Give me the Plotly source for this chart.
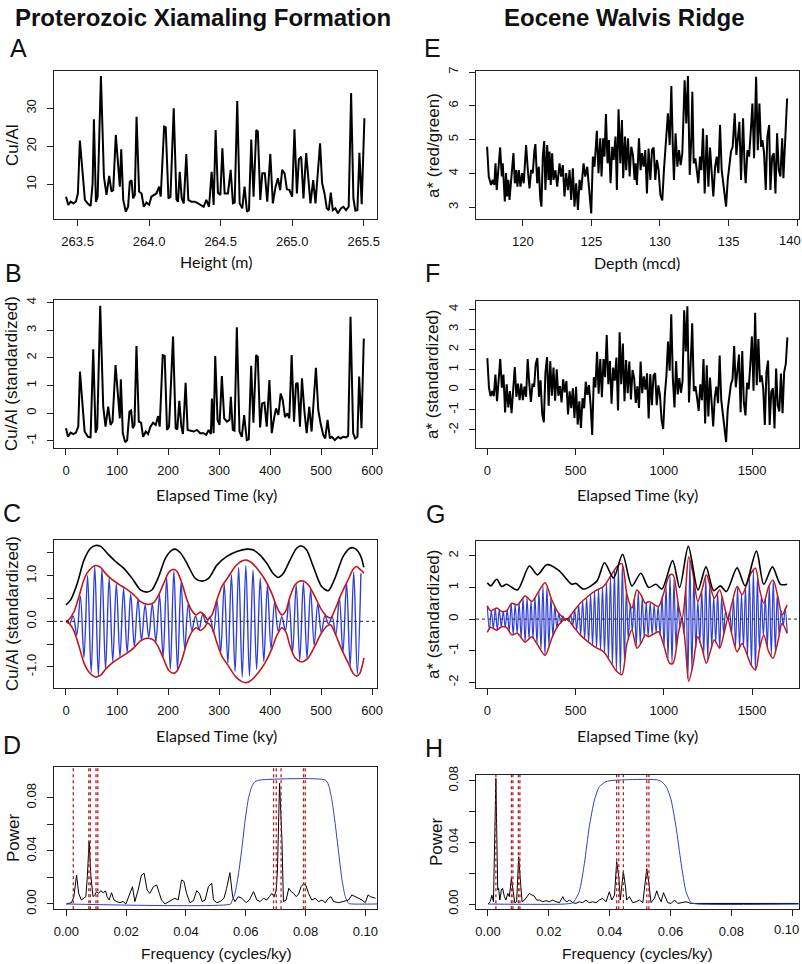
import numpy as np
import plotly.graph_objects as go

W, H = 802, 964
FONT = "Liberation Sans, Arial, sans-serif"
BLUE = "#2f3fd4"
RED = "#c01818"
DRED = "#b02020"

# ---------------- Panel A : Cu/Al vs height ----------------
A_height = [263.419, 263.435, 263.451, 263.470, 263.488, 263.502, 263.516, 263.535, 263.551, 263.574,
            263.591, 263.605, 263.614, 263.628, 263.640, 263.663, 263.684, 263.702, 263.721, 263.737,
            263.749, 263.767, 263.784, 263.795, 263.805, 263.819, 263.837, 263.853, 263.865, 263.877,
            263.888, 263.900, 263.912, 263.930, 263.947, 263.963, 263.981, 264.000, 264.016, 264.033,
            264.051, 264.070, 264.081, 264.105, 264.116, 264.135, 264.149, 264.172, 264.191, 264.202,
            264.214, 264.228, 264.242, 264.260, 264.274, 264.295, 264.319, 264.342, 264.365, 264.381,
            264.400, 264.419, 264.437, 264.451, 264.465, 264.481, 264.498, 264.512, 264.528, 264.551,
            264.570, 264.586, 264.598, 264.616, 264.633, 264.651, 264.667, 264.684, 264.698, 264.714,
            264.730, 264.749, 264.760, 264.777, 264.791, 264.809, 264.826, 264.847, 264.865, 264.884,
            264.900, 264.916, 264.930, 264.947, 264.963, 264.981, 265.000, 265.016, 265.033, 265.047,
            265.063, 265.079, 265.098, 265.112, 265.128, 265.147, 265.163, 265.195, 265.209, 265.226,
            265.242, 265.256, 265.270, 265.284, 265.302, 265.319, 265.342, 265.358, 265.377, 265.395,
            265.412, 265.428, 265.442, 265.456, 265.470, 265.486, 265.505]
A_cual = [6.75, 4.56, 5.44, 5.0, 5.44, 7.6, 21.5, 12.0, 5.9, 4.8,
          4.3, 10.3, 27.1, 5.4, 6.75, 38.5, 12.0, 7.2, 12.2, 8.1,
          8.5, 23.0, 15.5, 9.4, 19.2, 5.9, 2.8, 4.1, 10.7, 11.1,
          6.3, 7.2, 27.8, 8.1, 7.6, 4.1, 5.2, 4.6, 6.75, 7.2,
          7.6, 9.4, 6.75, 25.2, 25.0, 6.3, 6.75, 30.0, 6.05, 5.44,
          13.3, 6.3, 5.0, 18.0, 5.9, 5.44, 5.44, 5.0, 4.56, 4.1,
          5.9, 4.1, 13.3, 4.56, 24.3, 7.8, 7.2, 19.5, 7.6, 7.6,
          13.8, 5.0, 5.2, 31.9, 5.0, 3.7, 9.4, 2.8, 3.2, 21.8,
          6.75, 24.3, 23.9, 5.9, 12.9, 12.9, 5.44, 18.0, 5.0, 9.4,
          11.6, 8.5, 13.8, 12.9, 8.7, 8.5, 6.75, 24.5, 7.6, 16.6,
          17.3, 6.3, 18.2, 12.0, 5.0, 11.1, 5.0, 20.8, 10.4, 7.6,
          3.7, 3.2, 7.8, 3.2, 3.7, 2.4, 3.7, 4.1, 3.2, 4.1,
          34.0, 6.3, 3.1, 3.2, 18.3, 4.8, 27.4]

# ---------------- Panel B : standardized Cu/Al vs time ----------------
B_time = [0, 3.9, 9.1, 14.3, 19.5, 24.1, 27.4, 32.6, 36.5, 43.0,
          48.2, 53.4, 58.0, 61.2, 67.1, 73.0, 77.5, 82.7, 87.3, 91.2,
          97.1, 101.6, 105.5, 107.5, 111.4, 116.0, 119.9, 124.4, 127.7, 130.9,
          134.2, 138.1, 142.7, 147.2, 151.1, 156.4, 160.9, 165.5, 170.7, 175.9,
          180.5, 183.7, 189.6, 193.5, 198.0, 202.0, 209.8, 215.0, 218.2, 222.1,
          226.1, 229.3, 234.5, 238.4, 243.6, 250.2, 256.7, 263.2, 269.7, 274.9,
          279.5, 284.0, 286.0, 289.3, 292.5, 297.1, 301.0, 305.5, 310.1, 315.3,
          320.5, 323.1, 327.0, 330.3, 334.9, 340.1, 344.6, 349.2, 354.4, 358.3,
          362.9, 367.4, 372.6, 375.9, 380.5, 384.4, 388.9, 393.5, 398.7, 403.3,
          407.8, 411.7, 416.3, 420.8, 424.8, 429.3, 433.9, 437.8, 442.3, 446.9,
          450.8, 454.1, 458.6, 462.5, 467.1, 471.7, 476.9, 481.4, 489.9, 494.5,
          499.0, 504.2, 508.1, 512.7, 517.3, 521.2, 527.0, 533.6, 538.1, 543.3,
          548.5, 553.1, 557.7, 562.9, 566.8, 571.3, 574.6, 579.2, 583.7]
B_std = [-0.55, -0.86, -0.71, -0.76, -0.71, -0.49, 1.50, 0.23, -0.67, -0.86,
         -0.88, 2.31, -0.71, -0.55, 3.89, 0.23, -0.49, 0.23, -0.43, -0.31,
         1.74, 0.71, -0.19, 1.22, -0.73, -1.06, -0.98, 0.05, 0.09, -0.55,
         -0.43, 2.43, -0.31, -0.35, -0.86, -0.67, -0.76, -0.49, -0.35, -0.43,
         -0.11, -0.49, 2.10, 2.07, -0.61, -0.49, 2.77, -0.55, -0.59, 0.44,
         -0.49, -0.76, 1.10, -0.61, -0.64, -0.67, -0.61, -0.73, -0.73, -0.79,
         -0.61, -0.76, 0.53, -0.73, 2.07, -0.25, -0.43, 1.34, -0.19, -0.31,
         -0.25, 0.59, -0.61, -0.64, 3.11, -0.67, -0.86, -0.07, -0.98, -0.95,
         1.71, -0.35, 2.10, 2.04, -0.52, 0.35, 0.38, -0.49, 1.20, -0.73,
         -0.19, 0.17, -0.07, 0.71, 0.47, -0.15, -0.01, -0.19, 2.10, -0.31,
         1.05, 1.10, -0.49, 1.26, 0.11, -0.73, 0.23, -0.67, 1.64, 0.11,
         -0.37, -0.79, -0.92, -0.25, -0.92, -0.86, -0.98, -0.86, -0.92, -0.86,
         -0.88, -0.83, 3.49, -0.73, -0.92, -0.86, 1.32, -0.55, 2.70]

# ---------------- Panel C : filtered signal ----------------
C_blue_step = 7.05
C_blue = [0.0, -0.05, 0.12, -0.3, 0.55, -0.8, 1.0, -1.12, 1.2, -1.2,
          1.15, -1.05, 0.95, -0.88, 0.82, -0.78, 0.72, -0.68, 0.6, -0.55,
          0.48, -0.42, 0.36, -0.35, 0.38, -0.45, 0.58, -0.78, 0.95, -1.05,
          1.1, -1.05, 0.85, -0.6, 0.38, -0.2, 0.12, -0.18, 0.15, -0.04,
          0.1, -0.25, 0.45, -0.68, 0.82, -0.92, 1.02, -1.1, 1.18, -1.22,
          1.22, -1.2, 1.12, -1.05, 0.95, -0.88, 0.78, -0.6, 0.42, -0.22,
          0.1, -0.2, 0.45, -0.68, 0.8, -0.85, 0.85, -0.8, 0.7, -0.52,
          0.38, -0.25, 0.12, -0.06, 0.1, -0.3, 0.52, -0.68, 0.85, -0.98,
          1.08, -1.15, 1.05]
C_env_t = [0, 5.9, 15.6, 25.4, 35.2, 45.0, 58.0, 67.8, 77.5, 90.6,
           103.6, 116.6, 133.0, 146.0, 159.0, 172.0, 181.8, 191.5, 201.3, 211.1,
           217.6, 227.4, 237.1, 246.9, 255.4, 263.2, 271.0, 277.5, 286.0, 295.8,
           305.5, 318.6, 331.6, 344.6, 354.4, 364.2, 377.2, 390.2, 403.3, 413.0,
           422.8, 431.0, 439.1, 449.0, 458.6, 465.1, 474.9, 488.0, 501.0, 512.1,
           519.2, 527.0, 540.1, 553.1, 562.9, 569.4, 575.9, 581.1, 584.0]
C_env_upper = [0.0, 0.04, 0.21, 0.54, 0.91, 1.11, 1.22, 1.18, 1.05, 0.91,
               0.81, 0.72, 0.58, 0.43, 0.37, 0.41, 0.58, 0.83, 1.07, 1.14,
               1.09, 0.83, 0.47, 0.23, 0.14, 0.20, 0.14, 0.04, 0.14, 0.47,
               0.76, 0.98, 1.20, 1.32, 1.34, 1.28, 1.12, 0.91, 0.61, 0.32,
               0.14, 0.23, 0.54, 0.80, 0.88, 0.88, 0.80, 0.54, 0.25, 0.10,
               0.08, 0.25, 0.61, 0.91, 1.14, 1.20, 1.14, 1.09, 1.05]
C_env_lower = [0.0, -0.04, -0.21, -0.54, -0.91, -1.11, -1.22, -1.18, -1.05, -0.91,
               -0.81, -0.72, -0.58, -0.43, -0.37, -0.41, -0.58, -0.83, -1.07, -1.14,
               -1.09, -0.83, -0.47, -0.23, -0.14, -0.20, -0.14, -0.04, -0.14, -0.47,
               -0.76, -0.98, -1.20, -1.32, -1.34, -1.28, -1.12, -0.91, -0.61, -0.32,
               -0.14, -0.23, -0.54, -0.80, -0.88, -0.88, -0.80, -0.54, -0.25, -0.10,
               -0.08, -0.25, -0.61, -0.91, -1.14, -1.20, -1.14, -0.95, -0.80]
C_ecc_t = [0, 9.1, 22.1, 35.2, 48.2, 58.0, 67.8, 80.8, 97.1, 113.4,
           129.6, 145.9, 159.0, 168.7, 181.8, 194.8, 207.8, 214.3, 224.1, 237.1,
           253.4, 266.4, 279.5, 295.8, 315.3, 334.9, 354.4, 367.4, 380.5, 393.5,
           406.5, 416.3, 426.1, 439.1, 452.1, 461.9, 471.7, 484.7, 501.0, 514.0,
           527.0, 543.3, 556.4, 562.9, 572.6, 579.2, 583.7]
C_ecc = [0.36, 0.47, 0.83, 1.34, 1.60, 1.66, 1.64, 1.49, 1.31, 1.16,
         0.94, 0.69, 0.64, 0.69, 0.98, 1.38, 1.56, 1.58, 1.50, 1.27,
         0.94, 0.88, 0.94, 1.23, 1.42, 1.53, 1.58, 1.56, 1.45, 1.27,
         1.04, 0.96, 1.05, 1.34, 1.60, 1.65, 1.56, 1.20, 0.76, 0.67,
         0.94, 1.42, 1.60, 1.61, 1.53, 1.38, 1.18]

# ---------------- Panel D : spectrum ----------------
D_freq = [0, 0.0017, 0.0025, 0.0034, 0.0041, 0.0050, 0.0065, 0.0070, 0.0076, 0.0082,
          0.0089, 0.0095, 0.0101, 0.0108, 0.0115, 0.0123, 0.0131, 0.0136, 0.0143, 0.0151,
          0.0159, 0.0168, 0.0179, 0.0190, 0.0199, 0.0212, 0.0221, 0.0229, 0.0240, 0.0251,
          0.0260, 0.0270, 0.0279, 0.0291, 0.0302, 0.0311, 0.0318, 0.0330, 0.0341, 0.0352,
          0.0363, 0.0374, 0.0385, 0.0393, 0.0402, 0.0413, 0.0425, 0.0436, 0.0445, 0.0454,
          0.0464, 0.0475, 0.0486, 0.0492, 0.0503, 0.0514, 0.0527, 0.0536, 0.0547, 0.0556,
          0.0564, 0.0575, 0.0587, 0.0601, 0.0612, 0.0626, 0.0637, 0.0648, 0.0659, 0.0670,
          0.0679, 0.0687, 0.0695, 0.0702, 0.0706, 0.0713, 0.0721, 0.0726, 0.0735, 0.0744,
          0.0752, 0.0760, 0.0769, 0.0777, 0.0785, 0.0793, 0.0801, 0.0810, 0.0821, 0.0832,
          0.0844, 0.0855, 0.0866, 0.0877, 0.0885, 0.0894, 0.0911, 0.0927, 0.0944, 0.0955,
          0.0966, 0.0978, 0.0989, 0.1000, 0.1009, 0.1017, 0.1034]
D_power = [0, 0.0010, 0.0055, 0.0218, 0.0080, 0.0030, 0.0055, 0.0206, 0.0469, 0.0206,
           0.0055, 0.0068, 0.0093, 0.0080, 0.0100, 0.0085, 0.0098, 0.0055, 0.0030, 0.0085,
           0.0030, 0.0018, 0.0010, 0.0018, 0.0, 0.0080, 0.0130, 0.0018, 0.0105, 0.0218,
           0.0231, 0.0105, 0.0080, 0.0130, 0.0143, 0.0080, 0.0030, 0.0, 0.0018, 0.0030,
           0.0043, 0.0030, 0.0181, 0.0171, 0.0080, 0.0010, 0.0025, 0.0100, 0.0080, 0.0018,
           0.0030, 0.0130, 0.0156, 0.0030, 0.0010, 0.0018, 0.0043, 0.0118, 0.0236, 0.0055,
           0.0018, 0.0055, 0.0043, 0.0010, 0.0030, 0.0093, 0.0030, 0.0018, 0.0043, 0.0030,
           0.0055, 0.0080, 0.0055, 0.0105, 0.0256, 0.0908, 0.0482, 0.0018, 0.0030, 0.0118,
           0.0093, 0.0080, 0.0055, 0.0075, 0.0130, 0.0150, 0.0140, 0.0080, 0.0030, 0.0043,
           0.0018, 0.0030, 0.0010, 0.0043, 0.0055, 0.0018, 0.0010, 0.0018, 0.0030, 0.0068,
           0.0055, 0.0043, 0.0030, 0.0010, 0.0068, 0.0055, 0.0043]
D_filter_f = [0, 0.0550, 0.0553, 0.0564, 0.0575, 0.0587, 0.0598, 0.0609, 0.0620, 0.0631,
              0.0648, 0.0866, 0.0877, 0.0888, 0.0899, 0.0911, 0.0922, 0.0933, 0.0944, 0.0955, 0.1040]
D_filter_p = [0, 0, 0.0018, 0.0080, 0.0218, 0.0419, 0.0632, 0.0795, 0.0883, 0.0920,
              0.0933, 0.0933, 0.0895, 0.0783, 0.0607, 0.0381, 0.0181, 0.0055, 0.0005, 0, 0]
D_marks = [0.0023, 0.0075, 0.0080, 0.0099, 0.0105, 0.0693, 0.0702, 0.0718, 0.0793, 0.0799]

# ---------------- Panel E : a* vs depth ----------------
E_depth = [117.40, 117.52, 117.69, 117.81, 117.93, 118.01, 118.10, 118.22, 118.35, 118.47,
           118.54, 118.69, 118.78, 118.86, 118.95, 119.03, 119.17, 119.32, 119.42, 119.51,
           119.61, 119.71, 119.83, 119.95, 120.07, 120.24, 120.37, 120.49, 120.61, 120.73,
           120.85, 120.92, 121.05, 121.17, 121.27, 121.36, 121.46, 121.56, 121.65, 121.78,
           121.87, 121.95, 122.04, 122.14, 122.24, 122.38, 122.51, 122.68, 122.80, 122.92,
           123.04, 123.16, 123.29, 123.41, 123.53, 123.65, 123.77, 123.89, 124.02, 124.14,
           124.26, 124.43, 124.55, 124.70, 124.82, 124.99, 125.11, 125.23, 125.40, 125.52,
           125.65, 125.74, 125.86, 125.96, 126.06, 126.18, 126.28, 126.40, 126.52, 126.62,
           126.76, 126.86, 126.98, 127.11, 127.23, 127.32, 127.45, 127.54, 127.67, 127.79,
           127.91, 128.03, 128.15, 128.22,
           128.32, 128.47, 128.59, 128.69, 128.81, 128.93, 129.05, 129.17, 129.30, 129.42,
           129.54, 129.66, 129.78, 129.90, 130.03, 130.17, 130.29, 130.41, 130.58, 130.71,
           130.83, 130.95, 131.02, 131.14, 131.27, 131.39, 131.51, 131.63, 131.80, 131.92,
           132.04, 132.17, 132.29, 132.36, 132.46, 132.58, 132.68, 132.80, 132.92, 133.02,
           133.14, 133.26, 133.41, 133.53, 133.65, 133.77, 133.89, 134.02, 134.14, 134.26,
           134.38, 134.50, 134.62, 134.75, 134.82, 134.94, 135.06, 135.18, 135.30, 135.45,
           135.57, 135.69, 135.79, 135.91, 136.06, 136.18, 136.25, 136.38, 136.50, 136.62,
           136.74, 136.86, 137.01, 137.13, 137.25, 137.37, 137.47, 137.59, 137.71, 137.83,
           137.96, 138.05, 138.18, 138.30, 138.42, 138.54, 138.66, 138.78, 138.91, 139.00,
           139.10, 139.17, 139.27]
E_astar = [4.79, 3.91, 3.66, 3.81, 3.66, 4.30, 3.51, 4.10, 4.77, 3.91,
           4.30, 3.17, 4.01, 3.32, 3.81, 3.22, 3.91, 4.60, 3.71, 4.10,
           3.61, 4.10, 3.61, 4.01, 3.71, 4.84, 4.10, 3.56, 4.10, 4.01,
           4.69, 4.87, 3.71, 4.20, 3.27, 3.02, 4.50, 4.96, 3.51, 4.84,
           3.81, 4.65, 3.66, 4.60, 3.81, 4.10, 3.61, 4.30, 3.91, 4.25,
           3.32, 4.01, 3.51, 4.10, 3.22, 4.15, 3.02, 3.71, 2.92, 3.81,
           3.51, 4.30, 3.91, 4.20, 3.61, 2.82, 4.50, 4.20, 5.26, 4.01,
           5.04, 3.91, 5.04, 4.50, 5.76, 4.30, 4.99, 3.71, 4.79, 4.40,
           5.09, 3.51, 5.90, 4.30, 5.58, 3.86, 5.09, 4.10, 5.04, 3.91,
           4.79, 4.55, 3.81, 4.30,
           3.66, 5.04, 4.10, 4.60, 4.20, 4.69, 3.41, 4.74, 3.81, 4.69,
           4.77, 3.81, 4.40, 4.10, 3.37, 3.20, 4.10, 4.69, 5.78, 4.84,
           6.59, 4.60, 3.81, 5.19, 4.20, 4.69, 4.25, 4.60, 6.76, 5.48,
           6.88, 3.96, 5.09, 6.42, 4.30, 4.45, 4.10, 3.71, 4.50, 4.10,
           5.33, 3.41, 5.14, 3.61, 4.77, 4.01, 3.32, 4.20, 4.50, 4.01,
           5.43, 4.10, 3.66, 3.17, 3.02, 3.81, 4.30, 4.65, 4.79, 5.78,
           4.55, 5.09, 5.53, 3.81, 5.63, 4.10, 3.71, 4.69, 4.50, 5.24,
           6.07, 4.45, 6.86, 4.69, 6.07, 4.79, 4.99, 4.60, 3.51, 5.09,
           5.43, 3.51, 4.50, 4.60, 3.41, 5.19, 4.10, 3.91, 5.04, 3.86,
           5.09, 5.33, 6.22]

# ---------------- Panel F : standardized a* vs time ----------------
F_tmax = 1700
F_std = [1.57, 0.10, -0.32, -0.07, -0.32, 0.75, -0.57, 0.42, 1.53, 0.10,
         0.75, -1.13, 0.27, -0.88, -0.07, -1.17, -0.02, 1.13, -0.35, 0.30,
         -0.52, 0.30, -0.52, 0.15, -0.35, 1.53, 0.30, -0.60, 0.30, 0.15,
         1.28, 1.58, -0.35, 0.47, -1.20, -1.62, 0.85, 1.62, -0.80, 1.42,
         -0.30, 1.10, -0.55, 1.02, -0.30, 0.18, -0.63, 0.52, -0.13, 0.43,
         -1.23, -0.08, -0.92, 0.07, -1.40, 0.15, -1.73, -0.58, -1.90, -0.42,
         -0.92, 0.40, -0.25, 0.23, -0.75, -2.25, 0.62, 0.12, 1.88, -0.20,
         1.52, -0.37, 1.52, 0.62, 2.72, 0.28, 1.43, -0.70, 1.10, 0.45,
         1.60, -1.03, 2.85, 0.28, 2.30, -0.57, 1.48, -0.17, 1.40, -0.48,
         0.98, 0.58, -0.65, 0.17,
         -0.90, 1.40, -0.17, 0.67, 0.00, 0.82, -1.43, 0.78, -0.77, 0.70,
         0.83, -0.77, 0.22, -0.28, -1.50, -1.95, -0.28, 0.70, 2.40, 0.95,
         3.75, 0.55, -0.88, 1.42, -0.23, 0.58, -0.15, 0.43, 3.95, 1.90,
         4.15, -0.63, 1.25, 3.30, -0.07, 0.18, -0.40, -1.05, 0.27, -0.52,
         1.53, -1.67, 1.22, -1.33, 0.60, -0.67, -1.82, -0.35, 0.15, -0.67,
         1.70, -0.52, -1.25, -2.07, -2.60, -1.00, -0.30, 0.28, 0.52, 2.17,
         0.12, 1.02, 1.75, -1.12, 1.92, -0.63, -1.28, 0.35, 0.03, 1.27,
         2.65, -0.05, 3.83, 0.22, 2.52, 0.38, 0.72, 0.07, -1.75, 0.88,
         1.45, -1.75, -0.10, 0.07, -1.92, 1.05, -0.77, -1.08, 0.80, -1.17,
         0.88, 1.28, 2.60]

# ---------------- Panel G : filtered signal ----------------
G_blue_step = 11.25
G_blue = [0.42, -0.33, 0.27, -0.30, 0.33, -0.34, 0.29, -0.25, 0.25, -0.26,
          0.29, -0.38, 0.48, -0.49, 0.47, -0.45, 0.51, -0.59, 0.66, -0.73,
          0.68, -0.63, 0.58, -0.61, 0.69, -0.78, 0.87, -0.96, 1.05, -1.14,
          1.00, -0.84, 0.68, -0.54, 0.42, -0.29, 0.18, -0.14, 0.10, -0.05,
          0.00, -0.07, 0.14, -0.21, 0.29, -0.36, 0.44, -0.51, 0.57, -0.63,
          0.68, -0.73, 0.78, -0.83, 0.87, -0.91, 0.95, -0.98, 1.01, -1.08,
          1.17, -1.26, 1.35, -1.45, 1.54, -1.64, 1.69, -1.73, 1.74, -1.27,
          0.89, -0.65, 0.49, -0.39, 0.62, -0.85, 0.87, -0.79, 0.69, -0.57,
          0.52, -0.55, 0.53, -0.50, 0.47, -0.44, 0.41, -0.51, 0.71, -0.86,
          1.05, -1.24, 1.40, -1.40, 1.24, -0.89, 0.53, -0.25, 0.02, -0.46,
          1.00, -1.88, 1.85, -1.59, 1.29, -0.92, 0.57, -0.74, 0.90, -1.12,
          1.33, -1.27, 1.08, -0.88, 0.70, -0.73, 0.83, -0.92, 0.70, -0.48,
          0.25, -0.02, 0.22, -0.45, 0.65, -0.87, 1.01, -0.91, 0.80, -0.89,
          1.01, -1.16, 1.32, -1.47, 1.54, -1.61, 1.30, -0.96, 0.73, -0.53,
          0.67, -0.88, 1.06, -1.15, 1.23, -1.00, 0.77, -0.53, 0.26, -0.21,
          0.34, -0.45]
G_env_t = [0, 19, 53, 81, 110, 138, 170, 214, 252, 280,
           327, 365, 403, 450, 488, 526, 564, 611, 658, 696,
           734, 762, 791, 819, 847, 870, 895, 914, 940, 970,
           999, 1033, 1052, 1084, 1103, 1122, 1141, 1165, 1192, 1216,
           1241, 1263, 1286, 1316, 1343, 1362, 1386, 1415, 1443, 1472,
           1494, 1519, 1543, 1566, 1594, 1619, 1646, 1670, 1698]
G_env_upper = [0.42, 0.26, 0.35, 0.24, 0.27, 0.5, 0.45, 0.73, 0.56, 0.77,
               1.15, 0.61, 0.19, 0.0, 0.24, 0.5, 0.69, 0.89, 1.03, 1.34,
               1.66, 1.76, 0.77, 0.35, 0.92, 0.77, 0.5, 0.56, 0.48, 0.4,
               0.82, 1.4, 1.4, 0.4, 0.0, 0.82, 1.97, 1.45, 0.56, 0.92,
               1.4, 1.03, 0.66, 0.92, 0.4, 0.0, 0.5, 1.03, 0.77, 1.13,
               1.45, 1.61, 0.92, 0.5, 1.03, 1.24, 0.71, 0.14, 0.45]
G_env_lower = [-0.42, -0.26, -0.35, -0.24, -0.27, -0.5, -0.45, -0.73, -0.56, -0.77,
               -1.15, -0.61, -0.19, 0.0, -0.24, -0.5, -0.69, -0.89, -1.03, -1.34,
               -1.66, -1.76, -0.77, -0.35, -0.92, -0.77, -0.5, -0.56, -0.48, -0.4,
               -0.82, -1.4, -1.4, -0.4, 0.0, -0.82, -1.97, -1.45, -0.56, -0.92,
               -1.4, -1.03, -0.66, -0.92, -0.4, 0.0, -0.5, -1.03, -0.77, -1.13,
               -1.45, -1.61, -0.92, -0.5, -1.03, -1.24, -0.71, -0.14, -0.45]
G_ecc_t = [0, 18.9, 53.0, 81.3, 109.7, 170.2, 238.3, 283.7, 336.7, 402.9,
           478.5, 501.2, 544.7, 620.4, 663.9, 715.0, 766.0, 819.0, 869.7, 913.6,
           955.2, 989.2, 1049.7, 1089.5, 1138.6, 1193.5, 1238.9, 1282.4, 1320.2, 1354.3,
           1414.8, 1460.2, 1524.5, 1566.1, 1615.3, 1660.7, 1698.5]
G_ecc = [1.15, 1.05, 1.26, 1.03, 1.10, 0.92, 1.68, 1.40, 1.72, 1.55,
         1.10, 1.13, 0.95, 1.20, 1.78, 1.30, 2.05, 1.05, 1.45, 1.00,
         1.10, 0.95, 1.85, 1.00, 2.30, 0.92, 1.65, 0.90, 1.05, 0.87,
         1.62, 1.05, 2.15, 1.10, 1.65, 1.10, 1.10]

# ---------------- Panel H : spectrum ----------------
H_freq = [0, 0.0007, 0.0013, 0.0018, 0.0026, 0.0032, 0.0035, 0.0039, 0.0044, 0.0048,
          0.0054, 0.0059, 0.0065, 0.0070, 0.0077, 0.0082, 0.0088, 0.0094, 0.0101, 0.0106,
          0.0112, 0.0120, 0.0127, 0.0136, 0.0145, 0.0152, 0.0160, 0.0169, 0.0180, 0.0191,
          0.0202, 0.0213, 0.0224, 0.0235, 0.0246, 0.0251, 0.0259, 0.0268, 0.0279, 0.0289,
          0.0300, 0.0311, 0.0322, 0.0333, 0.0344, 0.0355, 0.0366, 0.0377, 0.0388, 0.0399,
          0.0407, 0.0416, 0.0423, 0.0430, 0.0435, 0.0445, 0.0452, 0.0456, 0.0465, 0.0476,
          0.0487, 0.0498, 0.0509, 0.0522, 0.0529, 0.0536, 0.0547, 0.0555, 0.0561, 0.0569,
          0.0577, 0.0583, 0.0591, 0.0602, 0.0613, 0.0624, 0.0640, 0.0651, 0.0668, 0.0695,
          0.0750, 0.0805, 0.0860, 0.0914, 0.0969, 0.1024]
H_power = [0, 0.0015, 0.0058, 0.0015, 0.0815, 0.0091, 0.0102, 0.0026, 0.0091, 0.0102,
           0.0048, 0.0026, 0.0069, 0.0048, 0.0166, 0.0091, 0.0009, 0.0015, 0.0307, 0.0166,
           0.0015, 0.0026, 0.0048, 0.0069, 0.0058, 0.0052, 0.0026, 0.0026, 0.0015, 0.0022,
           0.0015, 0.0026, 0.0015, 0.0009, 0.0048, 0.0026, 0.0015, 0.0026, 0.0009, 0.0004,
           0.0015, 0.0009, 0.0026, 0.0009, 0.0015, 0.0009, 0.0026, 0.0037, 0.0015, 0.0080,
           0.0026, 0.0058, 0.0275, 0.0177, 0.0026, 0.0210, 0.0112, 0.0026, 0.0048, 0.0009,
           0.0015, 0.0026, 0.0009, 0.0229, 0.0134, 0.0009, 0.0037, 0.0086, 0.0048, 0.0015,
           0.0074, 0.0048, 0.0009, 0.0004, 0.0026, 0.0004, 0.0009, 0.0015, 0.0004, 0.0004,
           0.0004, 0.0004, 0.0004, 0.0004, 0.0004, 0.0004]
H_filter_f = [0, 0.0250, 0.0279, 0.0300, 0.0317, 0.0333, 0.0350, 0.0366, 0.0388, 0.0410,
              0.0564, 0.0586, 0.0602, 0.0618, 0.0635, 0.0651, 0.0668, 0.0690, 0.1040]
H_filter_p = [0, 0, 0.0009, 0.0080, 0.0264, 0.0502, 0.0675, 0.0761, 0.0794, 0.0802,
              0.0802, 0.0761, 0.0675, 0.0502, 0.0264, 0.0080, 0.0009, 0, 0]
H_marks = [0.0026, 0.0077, 0.0082, 0.0100, 0.0105, 0.0423, 0.0430, 0.0445, 0.0522, 0.0529]

# ====================================================================
fig = go.Figure()


def line(x, y, ax, color="black", width=2.0, shape="linear", smoothing=1.0, dash="solid"):
    ln = dict(color=color, width=width, shape=shape, dash=dash)
    if shape == "spline":
        ln["smoothing"] = smoothing
    fig.add_trace(go.Scatter(x=x, y=y, mode="lines", line=ln,
                             xaxis="x" + ax, yaxis="y" + ax, hoverinfo="skip"))


# A
line(A_height, A_cual, "1", width=2.0)
# B
line(B_time, B_std, "2", width=2.0)
# C
C_blue_t = C_blue_step * np.arange(len(C_blue))
line(C_blue_t, C_blue, "3", color=BLUE, width=1.4, shape="spline", smoothing=1.0)
line(C_env_t, C_env_upper, "3", color=RED, width=1.6, shape="spline", smoothing=0.8)
line(C_env_t, C_env_lower, "3", color=RED, width=1.6, shape="spline", smoothing=0.8)
line(C_ecc_t, C_ecc, "3", color="black", width=1.6, shape="spline", smoothing=0.8)
# D
line(D_freq, D_power, "4", width=1.0)
line(D_filter_f, D_filter_p, "4", color="#3040c0", width=1.0, shape="spline", smoothing=0.6)
# E
line(E_depth, E_astar, "5", width=2.0)
# F
F_time = np.linspace(0, F_tmax, len(F_std))
line(F_time, F_std, "6", width=2.0)
# G
G_blue_t = G_blue_step * np.arange(len(G_blue))
line(G_blue_t, G_blue, "7", color=BLUE, width=1.2, shape="spline", smoothing=1.0)
line(G_env_t, G_env_upper, "7", color=RED, width=1.5, shape="spline", smoothing=0.8)
line(G_env_t, G_env_lower, "7", color=RED, width=1.5, shape="spline", smoothing=0.8)
line(G_ecc_t, G_ecc, "7", color="black", width=1.6, shape="spline", smoothing=0.8)
# H
line(H_freq, H_power, "8", width=1.0)
line(H_filter_f, H_filter_p, "8", color="#3040c0", width=1.0, shape="spline", smoothing=0.6)

# ---------------- axes ----------------
def dx(a, b):
    return [a / W, b / W]


def dy(top, bottom):
    return [1 - bottom / H, 1 - top / H]


LEFT = (54, 377)
RIGHT = (476, 798.5)

panels = {
    "1": dict(xd=LEFT, yd=(70.7, 219.3), xr=[263.335, 265.593], yr=[0.8, 39.9],
              xt=[263.5, 264.0, 264.5, 265.0, 265.5], xl=["263.5", "264.0", "264.5", "265.0", "265.5"],
              yt=[10, 20, 30], yl=["10", "20", "30"]),
    "2": dict(xd=LEFT, yd=(300, 448), xr=[-23.5, 609.6], yr=[-1.266, 4.097],
              xt=[0, 100, 200, 300, 400, 500, 600], xl=["0", "100", "200", "300", "400", "500", "600"],
              yt=[-1, 0, 1, 2, 3, 4], yl=["-1", "0", "1", "2", "3", "4"]),
    "3": dict(xd=LEFT, yd=(540, 688), xr=[-23.5, 609.6], yr=[-1.46, 1.78],
              xt=[0, 100, 200, 300, 400, 500, 600], xl=["0", "100", "200", "300", "400", "500", "600"],
              yt=[-1.0, -0.5, 0.0, 0.5, 1.0, 1.5], yl=["-1.0", "", "0.0", "", "1.0", ""]),
    "4": dict(xd=LEFT, yd=(766.7, 909.3), xr=[-0.00415, 0.1039], yr=[-0.004, 0.1033],
              xt=[0, 0.02, 0.04, 0.06, 0.08, 0.10], xl=["0.00", "0.02", "0.04", "0.06", "0.08", "0.10"],
              yt=[0, 0.02, 0.04, 0.06, 0.08], yl=["0.00", "", "0.04", "", "0.08"]),
    "5": dict(xd=RIGHT, yd=(70.7, 219.3), xr=[116.59, 140.1], yr=[2.645, 7.04],
              xt=[120, 125, 130, 135, 140], xl=["120", "125", "130", "135", ""],
              yt=[3, 4, 5, 6, 7], yl=["3", "4", "5", "6", "7"]),
    "6": dict(xd=RIGHT, yd=(301, 448), xr=[-64.3, 1762.9], yr=[-2.895, 4.41],
              xt=[0, 500, 1000, 1500], xl=["0", "500", "1000", "1500"],
              yt=[-2, -1, 0, 1, 2, 3, 4], yl=["-2", "-1", "0", "1", "2", "3", "4"]),
    "7": dict(xd=RIGHT, yd=(541, 688), xr=[-64.3, 1762.9], yr=[-2.18, 2.47],
              xt=[0, 500, 1000, 1500], xl=["0", "500", "1000", "1500"],
              yt=[-2, -1, 0, 1, 2], yl=["-2", "-1", "0", "1", "2"]),
    "8": dict(xd=RIGHT, yd=(775, 909.3), xr=[-0.00394, 0.10208], yr=[-0.0034, 0.0837],
              xt=[0, 0.02, 0.04, 0.06, 0.08, 0.10], xl=["0.00", "0.02", "0.04", "0.06", "0.08", ""],
              yt=[0, 0.02, 0.04, 0.06, 0.08], yl=["0.00", "", "0.04", "", "0.08"]),
}

common = dict(showline=True, linecolor="#222222", linewidth=1, mirror=True,
              ticks="outside", ticklen=6, tickwidth=1, tickcolor="#222222",
              showgrid=False, zeroline=False, fixedrange=True, automargin=False,
              tickfont=dict(family=FONT, size=13, color="#111111"))

layout_axes = {}
for k, p in panels.items():
    sfx = "" if k == "1" else k
    layout_axes["xaxis" + sfx] = dict(common, domain=dx(*p["xd"]), range=p["xr"], anchor="y" + sfx,
                                      tickmode="array", tickvals=p["xt"], ticktext=p["xl"],
                                      ticklabelstandoff=4)
    layout_axes["yaxis" + sfx] = dict(common, domain=dy(*p["yd"]), range=p["yr"], anchor="x" + sfx,
                                      tickmode="array", tickvals=p["yt"], ticktext=p["yl"],
                                      tickangle=-90, ticklabelstandoff=6)

# ---------------- shapes ----------------
shapes = []
for f in D_marks:
    shapes.append(dict(type="line", xref="x4", yref="y4 domain", x0=f, x1=f, y0=0, y1=1,
                       line=dict(color=DRED, width=1.3, dash="dot")))
for f in H_marks:
    shapes.append(dict(type="line", xref="x8", yref="y8 domain", x0=f, x1=f, y0=0, y1=1,
                       line=dict(color=DRED, width=1.3, dash="dot")))
for ax in ("3", "7"):
    shapes.append(dict(type="line", xref="x" + ax + " domain", yref="y" + ax, x0=0, x1=1, y0=0, y1=0,
                       line=dict(color="#222222", width=1, dash="dot")))

# ---------------- annotations ----------------
anns = []


def ann(text, x, y, size, angle=0, family=FONT, color="#111111"):
    anns.append(dict(text=text, x=x / W, y=1 - y / H, xref="paper", yref="paper",
                     showarrow=False, xanchor="center", yanchor="middle", textangle=angle,
                     font=dict(family=family, size=size, color=color)))


ann("<b>Proterozoic Xiamaling Formation</b>", 203, 17, 24)
ann("<b>Eocene Walvis Ridge</b>", 624, 17, 24)

for letter, x, y in [("A", 18, 48), ("B", 13, 273), ("C", 12, 513), ("D", 12, 745),
                     ("E", 433, 48), ("F", 433, 273), ("G", 435, 514), ("H", 434, 748)]:
    ann(letter, x, y, 25)

# edge tick labels that would otherwise overflow the page
ann("140", 790, 240, 13)
ann("0.10", 786, 929, 13)

TF = "Lato, Open Sans, sans-serif"
ann("Height (m)", 216, 262, 16, family=TF)
ann("Elapsed Time (ky)", 216, 495, 16, family=TF)
ann("Elapsed Time (ky)", 216, 735, 16, family=TF)
ann("Frequency (cycles/ky)", 216, 953, 15.5)
ann("Depth (mcd)", 637, 263, 16, family=TF)
ann("Elapsed Time (ky)", 637, 495, 16, family=TF)
ann("Elapsed Time (ky)", 637, 735, 16, family=TF)
ann("Frequency (cycles/ky)", 637, 953, 15.5)

ann("Cu/Al", 12, 145, 17, angle=-90)
ann("Cu/Al (standardized)", 12, 374, 17, angle=-90)
ann("Cu/Al (standardized)", 12, 614, 17, angle=-90)
ann("Power", 13, 838, 17, angle=-90)
ann("a* (red/green)", 433, 145, 17, angle=-90)
ann("a* (standardized)", 433, 374, 17, angle=-90)
ann("a* (standardized)", 433, 614, 17, angle=-90)
ann("Power", 436, 842, 17, angle=-90)

fig.update_layout(width=W, height=H, margin=dict(l=0, r=0, t=0, b=0, autoexpand=False),
                  paper_bgcolor="white", plot_bgcolor="white", showlegend=False,
                  shapes=shapes, annotations=anns, **layout_axes)

POST = (
    "document.documentElement.style.margin='0px';"
    "document.documentElement.style.overflow='hidden';"
    "document.body.style.margin='0px';"
    "document.body.style.overflow='hidden';"
    "var gd=document.getElementsByClassName('plotly-graph-div')[0];"
    "if(gd){gd.style.position='fixed';gd.style.left='0px';gd.style.top='0px';}"
)

fig.write_html("out.html", config={"displayModeBar": False}, post_script=POST)
